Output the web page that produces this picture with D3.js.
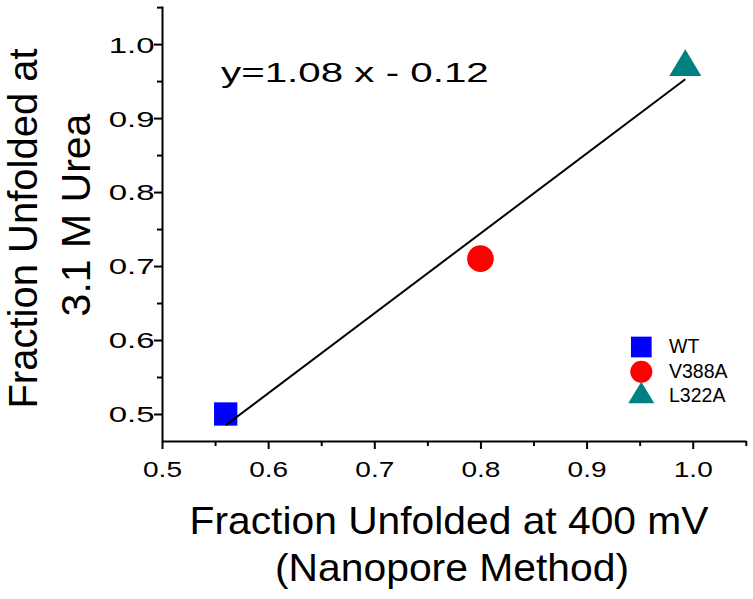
<!DOCTYPE html>
<html>
<head>
<meta charset="utf-8">
<script src="https://cdn.jsdelivr.net/npm/d3@7"></script>
<style>
  body { margin: 0; background: #fff; }
  svg { display: block; }
  text { font-family: "Liberation Sans", Arial, sans-serif; fill: #000; }
</style>
</head>
<body>
<svg id="chart" width="753" height="599"></svg>
<script>
// --- Data ---
const samples = ["WT", "V388A", "L322A"];
const nanoporeFrac = [0.56, 0.80, 0.993];   // x: fraction unfolded at 400 mV
const ureaFrac = [0.50, 0.71, 0.975];       // y: fraction unfolded at 3.1 M urea
const sampleColors = ["#0000ff", "#ff0000", "#008080"];
const sampleShapes = ["square", "circle", "triangle"];
const fitSlope = 1.08;
const fitIntercept = -0.12;
const fitXRange = [0.56, 0.993];
const xTicks = [0.5, 0.6, 0.7, 0.8, 0.9, 1.0];
const xMinor = [0.55, 0.65, 0.75, 0.85, 0.95, 1.05];
const yTicks = [0.5, 0.6, 0.7, 0.8, 0.9, 1.0];
const yMinor = [0.55, 0.65, 0.75, 0.85, 0.95, 1.05];

// --- Scales ---
const svg = d3.select("#chart");
const x = d3.scaleLinear().domain([0.5, 1.05]).range([162, 745.8]);
const y = d3.scaleLinear().domain([0.4635, 1.0515]).range([441, 6]);

// --- Axes ---
const fmt = d3.format(".1f");

const xAxisG = svg.append("g").attr("transform", "translate(0,441)");
xAxisG.append("g")
  .call(d3.axisBottom(x).tickValues(xMinor).tickSize(5).tickSizeOuter(0).tickFormat(""))
  .call(g => g.select(".domain").remove());
xAxisG.append("g")
  .call(d3.axisBottom(x).tickValues(xTicks).tickSize(8).tickSizeOuter(0).tickFormat(fmt));
// labels in the original are drawn wide, so stretch them sideways
xAxisG.selectAll("text")
  .attr("y", 36).attr("dy", null)
  .attr("font-size", 22.8)
  .attr("transform", "scale(1.23,1)");

const yAxisG = svg.append("g").attr("transform", "translate(162,0)");
yAxisG.append("g")
  .call(d3.axisLeft(y).tickValues(yMinor).tickSize(5).tickSizeOuter(0).tickFormat(""))
  .call(g => g.select(".domain").remove());
yAxisG.append("g")
  .call(d3.axisLeft(y).tickValues(yTicks).tickSize(8).tickSizeOuter(0).tickFormat(fmt));
yAxisG.selectAll("text")
  .attr("x", 0).attr("dy", "0.36em")
  .attr("font-size", 22)
  .attr("transform", "translate(-7.5,0) scale(1.5,1)");

svg.selectAll(".domain, .tick line").attr("stroke", "#000").attr("stroke-width", 2);

// --- Markers ---
function triPath(cx, cy, w, h) {
  return d3.line()([[cx - w / 2, cy + h / 2], [cx + w / 2, cy + h / 2], [cx, cy - h / 2]]) + "Z";
}
function drawMarker(g, shape, cx, cy, size, color) {
  if (shape === "square") {
    g.append("rect").attr("x", cx - size / 2).attr("y", cy - size / 2)
      .attr("width", size).attr("height", size).attr("fill", color);
  } else if (shape === "circle") {
    g.append("circle").attr("cx", cx).attr("cy", cy).attr("r", size / 2).attr("fill", color);
  } else {
    g.append("path").attr("d", triPath(cx, cy, size * 1.2, size)).attr("fill", color);
  }
}

const markerSizes = [23.3, 26.7, 26.7];
const markers = svg.append("g");
samples.forEach((s, i) => {
  if (i === 0) return; // square drawn below the fit line
  drawMarker(markers, sampleShapes[i], x(nanoporeFrac[i]), y(ureaFrac[i]), markerSizes[i], sampleColors[i]);
});
// square sits under the line
const under = svg.insert("g", ":first-child");
drawMarker(under, sampleShapes[0], x(nanoporeFrac[0]), y(ureaFrac[0]), markerSizes[0], sampleColors[0]);

// --- Fit line ---
svg.append("path")
  .attr("d", d3.line()(fitXRange.map(v => [x(v), y(fitSlope * v + fitIntercept)])))
  .attr("stroke", "#000").attr("stroke-width", 2).attr("fill", "none");

// --- Equation ---
svg.append("text")
  .attr("transform", "translate(221,82) scale(1.44,1)")
  .attr("font-size", 28)
  .text("y=1.08 x - 0.12");

// --- Legend ---
const legendY = [347, 371.7, 392.5];
const legendBase = [353, 378, 402];
const legendSizes = [20.7, 22, 21.7];
const legend = svg.append("g");
samples.forEach((s, i) => {
  drawMarker(legend, sampleShapes[i], 641.3, legendY[i], legendSizes[i], sampleColors[i]);
  legend.append("text").attr("x", 669).attr("y", legendBase[i])
    .attr("font-size", 19.5).text(s);
});

// --- Axis titles ---
svg.append("text")
  .attr("transform", "translate(449,534) scale(1.073,1)").attr("text-anchor", "middle")
  .attr("font-size", 38)
  .text("Fraction Unfolded at 400 mV");
svg.append("text")
  .attr("transform", "translate(452,581) scale(1.075,1)").attr("text-anchor", "middle")
  .attr("font-size", 38)
  .text("(Nanopore Method)");

svg.append("text")
  .attr("transform", "translate(37,228.5) rotate(-90)").attr("text-anchor", "middle")
  .attr("font-size", 40)
  .text("Fraction Unfolded at");
svg.append("text")
  .attr("transform", "translate(90,215) rotate(-90)").attr("text-anchor", "middle")
  .attr("font-size", 41)
  .text("3.1 M Urea");
</script>
</body>
</html>
